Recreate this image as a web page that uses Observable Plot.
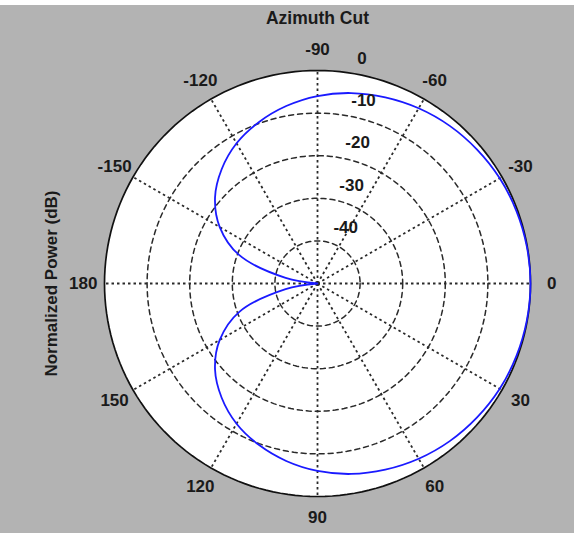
<!DOCTYPE html>
<html>
<head>
<meta charset="utf-8">
<script src="https://cdn.jsdelivr.net/npm/d3@7"></script>
<script src="https://cdn.jsdelivr.net/npm/@observablehq/plot@0.6"></script>
<style>
  html, body { margin: 0; padding: 0; background: #ffffff; }
  #chart svg { display: block; background: linear-gradient(#ffffff 0 5px, #b3b3b3 5px); }
</style>
</head>
<body>
<div id="chart"></div>
<script>
// ---- data ----
const titleText = "Azimuth Cut";
const yLabelText = "Normalized Power (dB)";
const angleTicks = [0, 30, 60, 90, 120, 150, 180, 210, 240, 270, 300, 330];
const angleLabels = ["0", "30", "60", "90", "120", "150", "180", "-150", "-120", "-90", "-60", "-30"];
const ringDb = [-10, -20, -30, -40];
const ringLabelDb = [0, -10, -20, -30, -40];
const ringLabels = ["0", "-10", "-20", "-30", "-40"];
const patternAz = [0, 10, 20, 30, 40, 50, 60, 70, 80, 90, 100, 110, 120, 130, 140, 150, 160, 170, 180];
const patternDb = [0, -0.1, -0.3, -0.6, -1.1, -1.7, -2.5, -3.5, -4.6, -6.0, -7.7, -9.7, -12.0, -15.0, -18.6, -23.5, -30.4, -42.4, -50];
const dbFloor = -50;

// ---- geometry helpers (polar -> cartesian, angles clockwise from right) ----
const rad = d => d * Math.PI / 180;
const rOf = db => Math.max(db - dbFloor, 0);
const px = (db, az) => rOf(db) * Math.cos(rad(az));
const py = (db, az) => rOf(db) * Math.sin(rad(az));
const rMax = rOf(0);

// pattern table (symmetric cut: mirror of the half read above)
const pattern = [];
for (let i = patternAz.length - 1; i > 0; i--) pattern.push({az: -patternAz[i], db: patternDb[i]});
for (let i = 0; i < patternAz.length; i++) pattern.push({az: patternAz[i], db: patternDb[i]});

// circles for rings / outer boundary
const circle = (db) => d3.range(0, 360, 2).map(a => ({db, a}));
const ringPts = ringDb.flatMap(circle);
const outerPts = circle(0);

const W = 574, H = 533, cx = 317, cy = 283, Rpx = 213;
const k = Rpx / rMax;
const font = "Liberation Sans, Arial, Helvetica, sans-serif";

const chart = Plot.plot({
  width: W,
  height: H,
  margin: 0,
  style: {fontFamily: font, color: "#000"},
  x: {domain: [-cx / k, (W - cx) / k], range: [0, W], axis: null},
  y: {domain: [-cy / k, (H - cy) / k], range: [0, H], axis: null},
  marks: [
    // white disk
    Plot.line(outerPts, {x: d => px(d.db, d.a), y: d => py(d.db, d.a), curve: "linear-closed", fill: "#ffffff", stroke: "none"}),
    // dashed rings
    Plot.line(ringPts, {x: d => px(d.db, d.a), y: d => py(d.db, d.a), z: "db", curve: "linear-closed", stroke: "#2a2a2a", strokeWidth: 1.5, strokeDasharray: "5,4"}),
    // dotted spokes
    Plot.link(angleTicks, {x1: 0, y1: 0, x2: a => px(0, a), y2: a => py(0, a), stroke: "#2a2a2a", strokeWidth: 1.8, strokeDasharray: "2.5,3"}),
    // outer circle
    Plot.line(outerPts, {x: d => px(d.db, d.a), y: d => py(d.db, d.a), curve: "linear-closed", stroke: "#111", strokeWidth: 1.7}),
    // antenna pattern
    Plot.line(pattern, {x: d => px(d.db, d.az), y: d => py(d.db, d.az), curve: "catmull-rom", stroke: "#1a1aff", strokeWidth: 1.8}),
    // angle labels
    Plot.text(angleTicks, {x: a => 1.1 * rMax * Math.cos(rad(a)), y: a => 1.1 * rMax * Math.sin(rad(a)), text: (a, i) => angleLabels[i], fontSize: 17, fontWeight: "bold", fill: "#1a1a1a"}),
    // radial labels
    Plot.text(ringLabelDb, {x: d => px(d, -82), y: d => py(d, -82), text: (d, i) => ringLabels[i], textAnchor: "start", dx: 10, dy: -14, fontSize: 17, fontWeight: "bold", fill: "#1a1a1a"}),
    // title
    Plot.text([titleText], {frameAnchor: "top", x: 0, dy: 18, text: d => d, fontSize: 17.5, fontWeight: "bold", fill: "#1a1a1a", lineAnchor: "middle"}),
    // y label
    Plot.text([yLabelText], {frameAnchor: "left", y: 0, dx: 51, text: d => d, rotate: -90, textAnchor: "middle", fontSize: 17, fontWeight: "bold", fill: "#1a1a1a"})
  ]
});
document.getElementById("chart").appendChild(chart);
</script>
</body>
</html>
